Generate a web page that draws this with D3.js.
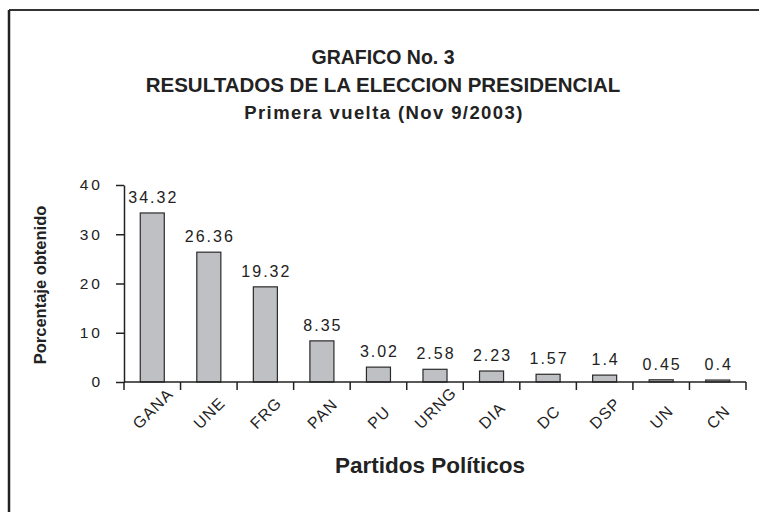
<!DOCTYPE html>
<html>
<head>
<meta charset="utf-8">
<script src="https://cdn.jsdelivr.net/npm/d3@7"></script>
<style>
  body { margin: 0; background: #fff; }
  text { font-family: "Liberation Sans", Arial, sans-serif; fill: #222; }
</style>
</head>
<body>
<svg id="chart" width="759" height="512"></svg>
<script>
// data
const partidos = ["GANA", "UNE", "FRG", "PAN", "PU", "URNG", "DIA", "DC", "DSP", "UN", "CN"];
const porcentajes = [34.32, 26.36, 19.32, 8.35, 3.02, 2.58, 2.23, 1.57, 1.4, 0.45, 0.4];
const yTicks = [0, 10, 20, 30, 40];

const titulos = ["GRAFICO No. 3", "RESULTADOS DE LA ELECCION PRESIDENCIAL", "Primera vuelta (Nov 9/2003)"];

const svg = d3.select("#chart");

// frame (runs off the right and bottom edges)
svg.append("line")
   .attr("x1", 9).attr("y1", 10).attr("x2", 759).attr("y2", 10)
   .attr("stroke", "#333").attr("stroke-width", 2);
svg.append("line")
   .attr("x1", 9).attr("y1", 10).attr("x2", 9).attr("y2", 512)
   .attr("stroke", "#222").attr("stroke-width", 2.5);

// titles
svg.append("text")
   .attr("x", 383).attr("y", 64)
   .attr("text-anchor", "middle")
   .style("font-size", "19.5px").style("font-weight", "bold")
   .text(titulos[0]);
svg.append("text")
   .attr("x", 383).attr("y", 92)
   .attr("text-anchor", "middle")
   .style("font-size", "20.5px").style("font-weight", "bold")
   .text(titulos[1]);
svg.append("text")
   .attr("x", 384).attr("y", 119)
   .attr("text-anchor", "middle")
   .style("font-size", "18.5px").style("font-weight", "bold")
   .style("letter-spacing", "1.4px")
   .text(titulos[2]);

let x = d3.scaleBand()
          .domain(partidos)
          .range([124, 746])
          .paddingInner(0.575)
          .paddingOuter(0.2875);

let y = d3.scaleLinear()
          .domain([0, 40])
          .range([382, 185]);

// y axis
let yAxis = svg.append("g")
   .attr("transform", "translate(124,0)")
   .call(d3.axisLeft(y).tickValues(yTicks).tickSize(8).tickSizeOuter(0).tickPadding(13));
yAxis.select(".domain").attr("stroke", "#222").attr("stroke-width", 1.5);
yAxis.selectAll(".tick line").attr("stroke", "#222").attr("stroke-width", 1.5);
yAxis.selectAll(".tick text")
     .style("font-size", "15.5px")
     .style("letter-spacing", "3px")
     .style("font-family", "\"Liberation Sans\", Arial, sans-serif")
     .attr("fill", "#222");

// bars
svg.selectAll("rect.bar")
   .data(porcentajes)
   .enter()
   .append("rect")
   .attr("class", "bar")
   .attr("x", (d, i) => x(partidos[i]))
   .attr("y", d => y(d))
   .attr("width", x.bandwidth())
   .attr("height", d => y(0) - y(d))
   .style("fill", "#bfc0c3")
   .style("stroke", "#2a2a2a")
   .style("stroke-width", 1.2);

// x axis line and category ticks
svg.append("line")
   .attr("x1", 124).attr("y1", y(0))
   .attr("x2", 746).attr("y2", y(0))
   .attr("stroke", "#222").attr("stroke-width", 1.5);

let bordes = d3.range(partidos.length + 1).map(i => x.range()[0] + i * x.step());
svg.selectAll("line.xtick")
   .data(bordes)
   .enter()
   .append("line")
   .attr("class", "xtick")
   .attr("x1", d => d).attr("x2", d => d)
   .attr("y1", y(0)).attr("y2", y(0) + 8)
   .attr("stroke", "#222").attr("stroke-width", 1.5);

// value labels
svg.selectAll("text.valor")
   .data(porcentajes)
   .enter()
   .append("text")
   .attr("class", "valor")
   .attr("x", (d, i) => x(partidos[i]) + x.bandwidth() / 2 + 1)
   .attr("y", d => y(d) - 10)
   .attr("text-anchor", "middle")
   .style("font-size", "16px")
   .style("letter-spacing", "2px")
   .text(d => d);

// rotated category labels: box centred on the category, bottoms aligned
svg.selectAll("text.cat")
   .data(partidos)
   .enter()
   .append("text")
   .attr("class", "cat")
   .attr("text-anchor", "start")
   .style("font-size", "16px")
   .style("letter-spacing", "1px")
   .text(d => d)
   .each(function(d) {
     let L = this.getComputedTextLength() - 1;
     let h = 11.5;
     let cx = x(d) + x.bandwidth() / 2 - 0.7071 * (L - h) / 2;
     d3.select(this).attr("transform", "translate(" + cx + ",430) rotate(-45)");
   });

// axis titles
svg.append("text")
   .attr("transform", "translate(46,285) rotate(-90)")
   .attr("text-anchor", "middle")
   .style("font-size", "16.5px").style("font-weight", "bold")
   .text("Porcentaje obtenido");

svg.append("text")
   .attr("x", 430).attr("y", 473)
   .attr("text-anchor", "middle")
   .style("font-size", "22.5px").style("font-weight", "bold")
   .text("Partidos Políticos");
</script>
</body>
</html>
